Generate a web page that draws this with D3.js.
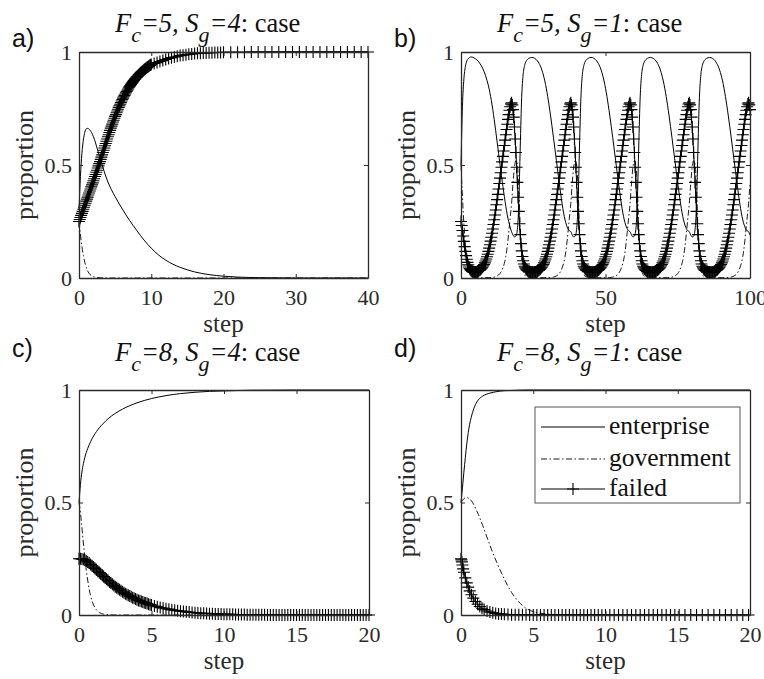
<!DOCTYPE html>
<html><head><meta charset="utf-8">
<script src="https://cdn.jsdelivr.net/npm/d3@7"></script>
<style>
body{margin:0;background:#fff}
svg{display:block}
text{white-space:pre}
.serif{font-family:"Liberation Serif","Times New Roman",Tinos,"Nimbus Roman","DejaVu Serif",serif}
.sans{font-family:"Liberation Sans",Arial,Arimo,"DejaVu Sans",sans-serif}
</style>
</head><body>
<svg id="chart" width="764" height="679"></svg>
<script>
// ---------------- DATA ----------------
const panelTags = ['a)','b)','c)','d)'];
const fcLabels = ['5','5','8','8'];
const sgLabels = ['4','1','4','1'];
const seriesNames = ['enterprise','government','failed'];
const yTickValues = [0, 0.5, 1];
const xTicksA = [0,10,20,30,40];
const xTicksB = [0,50,100];
const xTicksC = [0,5,10,15,20];
const xTicksD = [0,5,10,15,20];

// Panel a (Fc=5, Sg=4)
const stepLineA = [0,0.2,0.4,0.6,0.8,1,1.2,1.5,2,2.5,3,3.5,4,4.5,5,6,7,8,9,10,11,12,13,14,15,16,17,18,19,20,22,25,30,35,40];
const enterpriseA = [0.3,0.45,0.55,0.61,0.645,0.66,0.662,0.655,0.625,0.575,0.52,0.47,0.425,0.39,0.36,0.305,0.255,0.21,0.168,0.132,0.102,0.079,0.061,0.047,0.036,0.027,0.02,0.015,0.011,0.008,0.004,0.0015,0,0,0];
const governmentA = [0.25,0.19,0.14,0.1,0.07,0.047,0.031,0.016,0.006,0.002,0.001,0,0,0,0,0,0,0,0,0,0,0,0,0,0,0,0,0,0,0,0,0,0,0,0];
const stepFailA = [].concat(d3.range(0,10.001,0.1), d3.range(10.4,20.001,0.4), d3.range(21,40.001,0.95));
const failedA = [0.25,0.259,0.268,0.277,0.286,0.295,0.304,0.313,0.322,0.331,0.34,
0.349,0.358,0.367,0.376,0.385,0.394,0.403,0.412,0.421,0.43,
0.439,0.449,0.458,0.468,0.477,0.487,0.496,0.506,0.515,0.525,
0.535,0.545,0.555,0.565,0.575,0.585,0.595,0.605,0.615,0.625,
0.634,0.644,0.653,0.663,0.672,0.681,0.69,0.698,0.707,0.715,
0.723,0.731,0.739,0.747,0.755,0.762,0.769,0.776,0.783,0.79,
0.796,0.802,0.808,0.814,0.82,0.825,0.831,0.836,0.842,0.847,
0.852,0.856,0.861,0.865,0.87,0.874,0.878,0.882,0.886,0.89,
0.893,0.897,0.9,0.904,0.907,0.91,0.913,0.915,0.918,0.921,
0.924,0.926,0.929,0.931,0.934,0.936,0.938,0.941,0.943,0.945,
0.949,0.953,0.958,0.962,0.967,0.971,0.975,0.978,0.981,0.984,0.986,0.988,0.99,0.991,0.993,0.994,0.995,0.996,0.996,0.997,0.997,0.998,0.998,0.998,0.999,
0.999,0.999,0.999,1,1,1,1,1,1,1,1,1,1,1,1,1,1,1,1,1,1];

// Panel b (Fc=5, Sg=1)
const stepLineB = d3.range(0,100.001,0.5);
const enterpriseB = [0.5,0.76,0.88,0.935,0.96,0.97,0.976,0.978,0.977,0.974,
0.97,0.965,0.959,0.95,0.94,0.928,0.913,0.895,0.874,0.85,
0.82,0.785,0.745,0.7,0.652,0.602,0.552,0.502,0.453,0.405,
0.36,0.318,0.28,0.25,0.225,
0.205,0.19,0.182,0.185,0.215,0.33,0.58,0.8,0.9,0.94,0.958,0.967,0.972,0.975,0.976,0.975,0.972,0.967,0.96,0.95,0.937,0.92,0.898,0.872,0.84,0.803,0.762,0.717,0.67,0.621,0.571,0.521,0.47,0.42,0.372,0.327,0.288,0.257,0.234,0.218,0.209,
0.205,0.19,0.182,0.185,0.215,0.33,0.58,0.8,0.9,0.94,0.958,0.967,0.972,0.975,0.976,0.975,0.972,0.967,0.96,0.95,0.937,0.92,0.898,0.872,0.84,0.803,0.762,0.717,0.67,0.621,0.571,0.521,0.47,0.42,0.372,0.327,0.288,0.257,0.234,0.218,0.209,
0.205,0.19,0.182,0.185,0.215,0.33,0.58,0.8,0.9,0.94,0.958,0.967,0.972,0.975,0.976,0.975,0.972,0.967,0.96,0.95,0.937,0.92,0.898,0.872,0.84,0.803,0.762,0.717,0.67,0.621,0.571,0.521,0.47,0.42,0.372,0.327,0.288,0.257,0.234,0.218,0.209,
0.205,0.19,0.182,0.185,0.215,0.33,0.58,0.8,0.9,0.94,0.958,0.967,0.972,0.975,0.976,0.975,0.972,0.967,0.96,0.95,0.937,0.92,0.898,0.872,0.84,0.803,0.762,0.717,0.67,0.621,0.571,0.521,0.47,0.42,0.372,0.327,0.288,0.257,0.234,0.218,0.209,
0.205,0.19];
const governmentB = [0.5,0.36,0.24,0.15,0.09,0.052,0.03,0.017,0.01,0.006,
0.004,0.003,0.002,0.002,0.002,0.002,0.002,0.002,0.002,0.002,
0.002,0.002,0.003,0.004,0.006,0.009,0.013,0.02,0.03,0.045,
0.065,0.095,0.14,0.2,0.265,
0.33,0.42,0.49,0.52,0.5,0.4,0.22,0.09,0.035,0.015,0.007,0.004,0.003,0.002,0.002,0.002,0.002,0.002,0.002,0.002,0.002,0.002,0.002,0.002,0.002,0.002,0.002,0.002,0.003,0.004,0.006,0.009,0.013,0.02,0.03,0.045,0.065,0.095,0.14,0.2,0.265,
0.33,0.42,0.49,0.52,0.5,0.4,0.22,0.09,0.035,0.015,0.007,0.004,0.003,0.002,0.002,0.002,0.002,0.002,0.002,0.002,0.002,0.002,0.002,0.002,0.002,0.002,0.002,0.002,0.003,0.004,0.006,0.009,0.013,0.02,0.03,0.045,0.065,0.095,0.14,0.2,0.265,
0.33,0.42,0.49,0.52,0.5,0.4,0.22,0.09,0.035,0.015,0.007,0.004,0.003,0.002,0.002,0.002,0.002,0.002,0.002,0.002,0.002,0.002,0.002,0.002,0.002,0.002,0.002,0.002,0.003,0.004,0.006,0.009,0.013,0.02,0.03,0.045,0.065,0.095,0.14,0.2,0.265,
0.33,0.42,0.49,0.52,0.5,0.4,0.22,0.09,0.035,0.015,0.007,0.004,0.003,0.002,0.002,0.002,0.002,0.002,0.002,0.002,0.002,0.002,0.002,0.002,0.002,0.002,0.002,0.002,0.003,0.004,0.006,0.009,0.013,0.02,0.03,0.045,0.065,0.095,0.14,0.2,0.265,
0.33,0.42];
const stepFailB = d3.range(0,100.001,0.25);
const failedB = [0.25,0.232,0.21,0.186,0.162,0.139,0.118,0.099,0.083,0.069,
0.058,0.049,0.042,0.037,0.033,0.03,0.028,0.026,0.025,0.025,
0.026,0.027,0.028,0.029,0.031,0.033,0.035,0.038,0.041,0.045,
0.049,0.054,0.06,0.067,0.075,0.084,0.094,0.105,0.118,0.132,
0.147,0.163,0.18,0.198,0.217,0.237,0.258,0.279,0.301,0.324,
0.347,0.37,0.394,0.418,0.442,0.466,0.49,0.514,0.538,0.562,
0.586,0.61,0.634,0.657,0.68,0.702,0.723,0.742,0.758,0.77,
0.775,0.766,0.745,0.712,0.668,0.615,0.555,0.49,0.423,0.357,0.295,0.24,0.192,0.152,0.12,0.095,0.076,0.062,0.052,0.045,0.04,0.036,0.033,0.031,0.029,0.028,0.027,0.026,0.026,0.025,0.025,0.025,0.026,0.027,0.028,0.029,0.031,0.033,0.035,0.038,0.041,0.045,0.049,0.054,0.06,0.067,0.075,0.084,0.094,0.105,0.118,0.132,0.147,0.163,0.18,0.198,0.217,0.237,0.258,0.279,0.301,0.324,0.347,0.37,0.394,0.418,0.442,0.466,0.49,0.514,0.538,0.562,0.586,0.61,0.634,0.657,0.68,0.702,0.723,0.742,0.758,0.77,
0.775,0.766,0.745,0.712,0.668,0.615,0.555,0.49,0.423,0.357,0.295,0.24,0.192,0.152,0.12,0.095,0.076,0.062,0.052,0.045,0.04,0.036,0.033,0.031,0.029,0.028,0.027,0.026,0.026,0.025,0.025,0.025,0.026,0.027,0.028,0.029,0.031,0.033,0.035,0.038,0.041,0.045,0.049,0.054,0.06,0.067,0.075,0.084,0.094,0.105,0.118,0.132,0.147,0.163,0.18,0.198,0.217,0.237,0.258,0.279,0.301,0.324,0.347,0.37,0.394,0.418,0.442,0.466,0.49,0.514,0.538,0.562,0.586,0.61,0.634,0.657,0.68,0.702,0.723,0.742,0.758,0.77,
0.775,0.766,0.745,0.712,0.668,0.615,0.555,0.49,0.423,0.357,0.295,0.24,0.192,0.152,0.12,0.095,0.076,0.062,0.052,0.045,0.04,0.036,0.033,0.031,0.029,0.028,0.027,0.026,0.026,0.025,0.025,0.025,0.026,0.027,0.028,0.029,0.031,0.033,0.035,0.038,0.041,0.045,0.049,0.054,0.06,0.067,0.075,0.084,0.094,0.105,0.118,0.132,0.147,0.163,0.18,0.198,0.217,0.237,0.258,0.279,0.301,0.324,0.347,0.37,0.394,0.418,0.442,0.466,0.49,0.514,0.538,0.562,0.586,0.61,0.634,0.657,0.68,0.702,0.723,0.742,0.758,0.77,
0.775,0.766,0.745,0.712,0.668,0.615,0.555,0.49,0.423,0.357,0.295,0.24,0.192,0.152,0.12,0.095,0.076,0.062,0.052,0.045,0.04,0.036,0.033,0.031,0.029,0.028,0.027,0.026,0.026,0.025,0.025,0.025,0.026,0.027,0.028,0.029,0.031,0.033,0.035,0.038,0.041,0.045,0.049,0.054,0.06,0.067,0.075,0.084,0.094,0.105,0.118,0.132,0.147,0.163,0.18,0.198,0.217,0.237,0.258,0.279,0.301,0.324,0.347,0.37,0.394,0.418,0.442,0.466,0.49,0.514,0.538,0.562,0.586,0.61,0.634,0.657,0.68,0.702,0.723,0.742,0.758,0.77,
0.775,0.766,0.745];

// Panel c (Fc=8, Sg=4)
const stepLineC = [0,0.1,0.2,0.3,0.4,0.5,0.6,0.7,0.8,1,1.2,1.4,1.7,2,2.5,3,4,5,6,7,8,9,10,12,15,20];
const enterpriseC = [0.5,0.58,0.635,0.672,0.7,0.722,0.74,0.756,0.77,0.795,0.815,0.832,0.853,0.872,0.896,0.915,0.943,0.962,0.975,0.984,0.99,0.994,0.996,0.999,1,1];
const governmentC = [0.5,0.455,0.39,0.32,0.26,0.2,0.155,0.115,0.085,0.045,0.023,0.011,0.004,0.0015,0,0,0,0,0,0,0,0,0,0,0,0];
const stepFailC = [].concat(d3.range(0,5.001,0.1), d3.range(5.2,20.001,0.2));
const failedC = [0.25,0.25,0.249,0.247,0.244,0.24,0.236,0.231,0.225,0.219,
0.213,0.207,0.201,0.195,0.189,0.183,0.177,0.171,0.165,0.159,
0.153,0.147,0.142,0.137,0.131,0.126,0.121,0.117,0.112,0.108,
0.103,0.099,0.095,0.091,0.088,0.084,0.081,0.077,0.074,0.071,
0.068,0.065,0.063,0.06,0.058,0.055,0.053,0.051,0.048,0.046,0.044,
0.04,0.037,0.033,0.031,0.028,0.026,0.023,0.021,0.019,0.017,
0.016,0.014,0.013,0.011,0.01,0.009,0.008,0.008,0.007,0.006,
0.006,0.005,0.005,0.004,0.0035,0.003,0.003,0.003,0.002,0.002,
0.002,0.002,0.001,0.001,0.001,0.001,0.001,0.001,0.001,0.0005,
0,0,0,0,0,0,0,0,0,0,0,0,0,0,0,0,0,0,0,0,0,0,0,0,0,0,0,0,0,0,0,0,0,0,0];

// Panel d (Fc=8, Sg=1)
const stepLineD = [0,0.1,0.2,0.3,0.4,0.5,0.6,0.8,1,1.2,1.5,2,2.5,3,3.5,4,4.5,5,6,7,8,10,12,15,20];
const enterpriseD = [0.5,0.565,0.635,0.7,0.76,0.81,0.848,0.9,0.935,0.956,0.973,0.986,0.993,0.997,0.998,0.999,1,1,1,1,1,1,1,1,1];
const governmentD = [0.5,0.51,0.517,0.521,0.522,0.52,0.516,0.5,0.475,0.447,0.398,0.31,0.23,0.16,0.1,0.058,0.03,0.015,0.004,0.001,0,0,0,0,0];
const stepFailD = [].concat([0,0.03,0.06,0.1,0.15,0.2,0.3,0.4,0.5,0.6,0.72,0.85,1.0,1.15,1.3,1.45,1.6,1.8,2.0,2.2,2.4,2.6,2.8,3.0,3.25,3.5,3.75,4.0],
  d3.range(4.25,10.001,0.25), d3.range(10.3,15.101,0.3), d3.range(15.5,20.001,0.4));
const failedD = [0.25,0.245,0.236,0.222,0.205,0.19,0.165,0.143,0.124,0.107,
0.09,0.075,0.06,0.048,0.038,0.03,0.024,0.018,0.013,0.01,
0.007,0.005,0.004,0.003,0.002,0.0015,0.001,0.001,
0.0008,0.0006,0.0005,0,0,0,0,0,0,0,0,0,0,0,0,0,0,0,0,0,0,0,0,0,
0,0,0,0,0,0,0,0,0,0,0,0,0,0,0,0,0,
0,0,0,0,0,0,0,0,0,0,0,0];

// ---------------- LAYOUT ----------------
const panels = [
  {tag:0, x0:79, x1:368, y0:52, y1:278, xmax:40, xticks:xTicksA, tLine:stepLineA, ent:enterpriseA, gov:governmentA, tFail:stepFailA, fail:failedA, titleY:32, tagY:47},
  {tag:1, x0:461, x1:750, y0:52, y1:278, xmax:100, xticks:xTicksB, tLine:stepLineB, ent:enterpriseB, gov:governmentB, tFail:stepFailB, fail:failedB, titleY:32, tagY:47},
  {tag:2, x0:79, x1:369, y0:390, y1:615, xmax:20, xticks:xTicksC, tLine:stepLineC, ent:enterpriseC, gov:governmentC, tFail:stepFailC, fail:failedC, titleY:361, tagY:357},
  {tag:3, x0:461, x1:750, y0:390, y1:615, xmax:20, xticks:xTicksD, tLine:stepLineD, ent:enterpriseD, gov:governmentD, tFail:stepFailD, fail:failedD, titleY:361, tagY:357, legend:true}
];

const svg = d3.select('#chart');
const axisColor = '#2b2b2b';
const dashDot = '6,2.5,1.5,2.5';
const crossPath = 'M-6,0H6M0,-6V6';

panels.forEach(p => {
  if (p.tLine.length !== p.ent.length || p.tLine.length !== p.gov.length || p.tFail.length !== p.fail.length)
    console.error('length mismatch', panelTags[p.tag], p.tLine.length, p.ent.length, p.gov.length, p.tFail.length, p.fail.length);
  const x = d3.scaleLinear().domain([0, p.xmax]).range([p.x0, p.x1]);
  const y = d3.scaleLinear().domain([0, 1]).range([p.y1, p.y0]);
  const g = svg.append('g');
  const smooth = d3.line().x(d => x(d[0])).y(d => y(d[1])).curve(d3.curveMonotoneX);
  const straight = d3.line().x(d => x(d[0])).y(d => y(d[1]));

  g.append('path').attr('d', smooth(d3.zip(p.tLine, p.ent)))
    .attr('fill','none').attr('stroke','#000').attr('stroke-width',1);
  g.append('path').attr('d', smooth(d3.zip(p.tLine, p.gov)))
    .attr('fill','none').attr('stroke','#000').attr('stroke-width',0.9).attr('stroke-dasharray',dashDot);
  const fd = d3.zip(p.tFail, p.fail);
  g.append('path').attr('d', straight(fd))
    .attr('fill','none').attr('stroke','#000').attr('stroke-width',1);
  g.append('g').selectAll('path').data(fd).join('path')
    .attr('d', crossPath)
    .attr('transform', d => `translate(${x(d[0])},${y(d[1])})`)
    .attr('fill','none').attr('stroke','#000').attr('stroke-width',1.1);

  // axes (box with inward ticks)
  const fmt = d => String(d);
  const styleAxis = sel => {
    sel.attr('font-family', null).attr('font-size', null);
    sel.selectAll('path.domain').attr('stroke', axisColor).attr('stroke-width', 1.3).attr('fill','none');
    sel.selectAll('.tick line').attr('stroke', axisColor).attr('stroke-width', 1);
    sel.selectAll('text').attr('class','serif').attr('fill', axisColor).style('font-size', '22px');
  };
  g.append('g').attr('transform', `translate(0,${p.y1})`)
    .call(d3.axisBottom(x).tickValues(p.xticks).tickFormat(fmt).tickSize(-4).tickSizeOuter(0).tickPadding(11))
    .call(styleAxis);
  g.append('g').attr('transform', `translate(0,${p.y0})`)
    .call(d3.axisTop(x).tickValues(p.xticks).tickFormat('').tickSize(-4).tickSizeOuter(0))
    .call(styleAxis);
  g.append('g').attr('transform', `translate(${p.x0},0)`)
    .call(d3.axisLeft(y).tickValues(yTickValues).tickFormat(fmt).tickSize(-4).tickSizeOuter(0).tickPadding(7))
    .call(styleAxis);
  g.append('g').attr('transform', `translate(${p.x1},0)`)
    .call(d3.axisRight(y).tickValues(yTickValues).tickFormat('').tickSize(-4).tickSizeOuter(0))
    .call(styleAxis);

  // axis labels
  const cx = (p.x0 + p.x1) / 2, cy = (p.y0 + p.y1) / 2;
  g.append('text').attr('class','serif').attr('x', cx).attr('y', p.y1 + 54).attr('text-anchor','middle')
    .style('font-size','25px').attr('fill', axisColor).text('step');
  g.append('text').attr('class','serif').attr('transform', `translate(${p.x0 - 46},${cy}) rotate(-90)`).attr('text-anchor','middle')
    .style('font-size','26px').attr('fill', axisColor).text('proportion');

  // panel tag
  svg.append('text').attr('class','sans').attr('x', p.x0 - 67).attr('y', p.tagY)
    .style('font-size','25px').attr('fill','#111').text(panelTags[p.tag]);

  // title
  const t = svg.append('text').attr('class','serif').attr('x', p.x0 + 36).attr('y', p.titleY)
    .style('font-size','26.5px').attr('fill','#111');
  t.append('tspan').style('font-style','italic').text('F');
  t.append('tspan').style('font-style','italic').style('font-size','22px').attr('dy',10).text('c');
  t.append('tspan').style('font-style','italic').attr('dy',-10).text('=' + fcLabels[p.tag] + ', ');
  t.append('tspan').style('font-style','italic').text('S');
  t.append('tspan').style('font-style','italic').style('font-size','22px').attr('dy',10).text('g');
  t.append('tspan').style('font-style','italic').attr('dy',-10).text('=' + sgLabels[p.tag]);
  t.append('tspan').text(': case');

  if (p.legend) {
    const lg = svg.append('g');
    lg.append('rect').attr('x', 535).attr('y', 407).attr('width', 205).attr('height', 96)
      .attr('fill','#fff').attr('stroke','#555').attr('stroke-width',1);
    const rowsY = [427, 459, 489];
    seriesNames.forEach((name, i) => {
      const ly = rowsY[i];
      lg.append('line').attr('x1', 541).attr('x2', 605).attr('y1', ly).attr('y2', ly)
        .attr('stroke','#000').attr('stroke-width', i === 1 ? 0.9 : 1)
        .attr('stroke-dasharray', i === 1 ? dashDot : null);
      if (i === 2) lg.append('path').attr('d', crossPath).attr('transform', `translate(573,${ly})`)
        .attr('stroke','#000').attr('stroke-width',1.1).attr('fill','none');
      lg.append('text').attr('class','serif').attr('x', 609).attr('y', ly + 7)
        .style('font-size','25.5px').attr('fill','#111').text(name);
    });
  }
});
</script>
</body></html>
